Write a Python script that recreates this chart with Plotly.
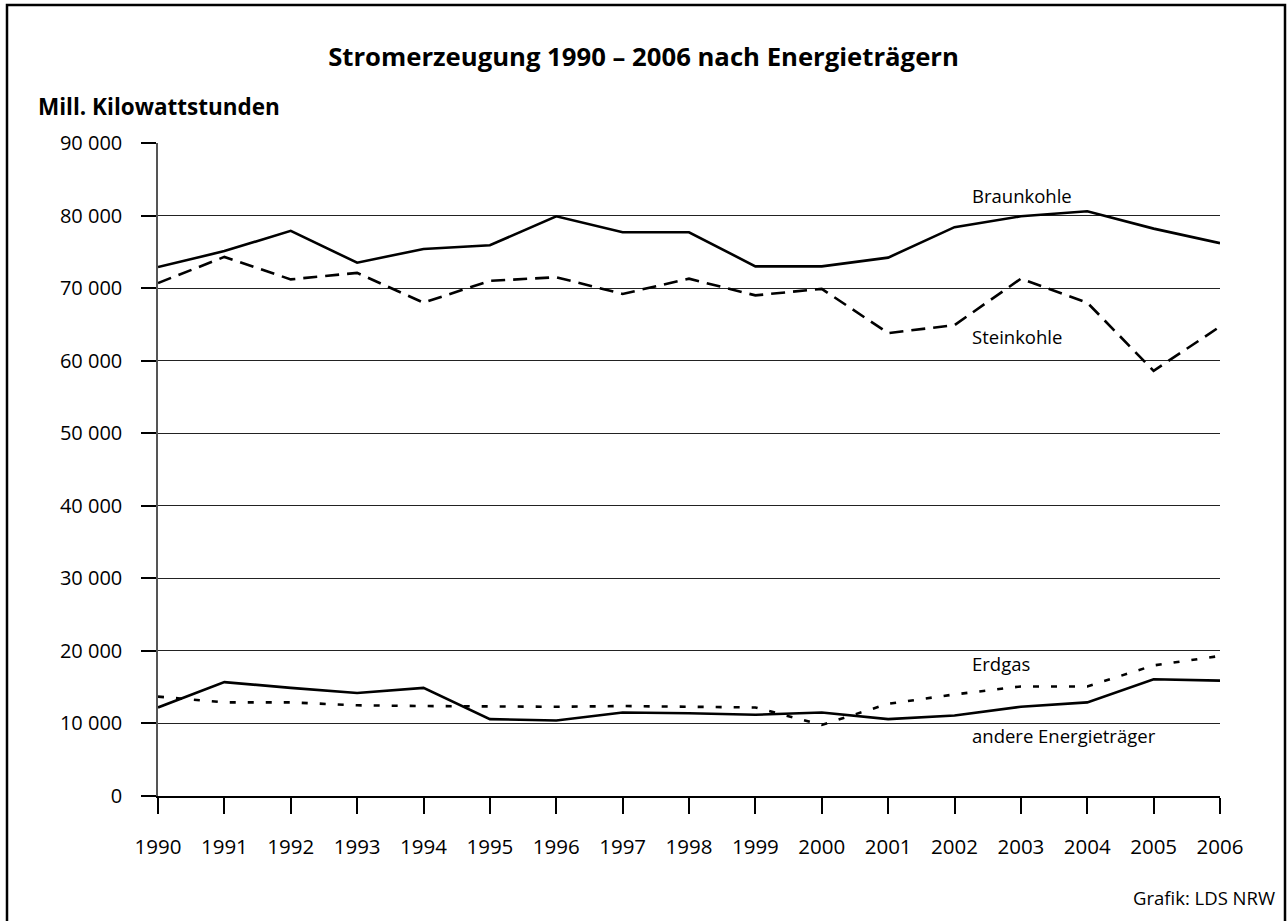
import plotly.graph_objects as go

years = list(range(1990, 2007))

braunkohle = [72900, 75100, 77900, 73500, 75400, 75900, 79900, 77700, 77700,
              73000, 73000, 74200, 78400, 79900, 80600, 78200, 76200]
steinkohle = [70700, 74300, 71200, 72100, 68000, 71000, 71500, 69200, 71300,
              69000, 69900, 63800, 64900, 71300, 68000, 58600, 64700]
erdgas = [13700, 12900, 12900, 12500, 12400, 12300, 12300, 12400, 12300,
          12200, 9800, 12700, 14000, 15100, 15100, 18000, 19300]
andere = [12200, 15700, 14900, 14200, 14900, 10600, 10400, 11500, 11400,
          11200, 11500, 10600, 11100, 12300, 12900, 16100, 15900]

y_ticks = list(range(0, 90001, 10000))
y_labels = ["0" if v == 0 else f"{v // 1000} 000" for v in y_ticks]

FONT = "Open Sans"

W, H = 1287, 921
L, R, T, B = 158, 67, 143, 125
pw, ph = W - L - R, H - T - B


def px_x(p):
    return (p - L) / pw


def px_y(p):
    return (H - B - p) / ph


fig = go.Figure()
fig.add_trace(go.Scatter(x=years, y=braunkohle, mode="lines", name="Braunkohle",
                         line=dict(color="black", width=2.6)))
fig.add_trace(go.Scatter(x=years, y=steinkohle, mode="lines", name="Steinkohle",
                         line=dict(color="black", width=2.6, dash="14px,8px")))
fig.add_trace(go.Scatter(x=years, y=erdgas, mode="lines", name="Erdgas",
                         line=dict(color="black", width=2.6, dash="6px,12px")))
fig.add_trace(go.Scatter(x=years, y=andere, mode="lines", name="andere Energieträger",
                         line=dict(color="black", width=2.6)))

# series labels
labels = [("Braunkohle", 82700), ("Steinkohle", 63400),
          ("Erdgas", 18300), ("andere Energieträger", 8300)]
for txt, yv in labels:
    fig.add_annotation(x=2002.23, y=yv, xref="x", yref="y", text=txt,
                       showarrow=False, xanchor="left", yanchor="middle",
                       font=dict(family=FONT, size=18.5, color="black"))

fig.add_annotation(x=px_x(36), y=px_y(106), xref="paper", yref="paper",
                   text="<b>Mill. Kilowattstunden</b>",
                   showarrow=False, xanchor="left", yanchor="middle",
                   font=dict(family=FONT, size=22.5, color="black"))
fig.add_annotation(x=px_x(1277), y=px_y(897), xref="paper", yref="paper",
                   text="Grafik: LDS NRW", showarrow=False,
                   xanchor="right", yanchor="middle",
                   font=dict(family=FONT, size=18.5, color="black"))

fig.add_shape(type="rect", xref="paper", yref="paper",
              x0=px_x(7), x1=px_x(1285), y0=px_y(930), y1=px_y(5),
              line=dict(color="black", width=2.5), fillcolor="rgba(0,0,0,0)")

fig.update_layout(
    width=W, height=H, autosize=False,
    margin=dict(l=L, r=R, t=T, b=B),
    paper_bgcolor="white", plot_bgcolor="white",
    showlegend=False,
    font=dict(family=FONT, color="black"),
    title=dict(text="<b>Stromerzeugung 1990 – 2006 nach Energieträgern</b>",
               x=0.5, xref="container", xanchor="center",
               y=1 - 57 / H, yref="container", yanchor="middle",
               font=dict(family=FONT, size=25.7, color="black")),
)
fig.update_xaxes(range=[1990, 2006], tickvals=years, ticks="outside", ticklen=16,
                 tickwidth=1.5, tickcolor="black", showgrid=False, zeroline=False,
                 showline=True, linecolor="black", linewidth=1.5,
                 tickfont=dict(family=FONT, size=20.5), ticklabelstandoff=16)
fig.update_yaxes(range=[0, 90000], tickvals=y_ticks, ticktext=y_labels,
                 ticks="outside", ticklen=15, tickwidth=1.5, tickcolor="black",
                 showgrid=True, gridcolor="#222", gridwidth=1.2, zeroline=False,
                 showline=True, linecolor="#555", linewidth=1.5,
                 tickfont=dict(family=FONT, size=20), ticklabelstandoff=15)

fig.write_html("out.html", config={"displayModeBar": False},
               post_script="document.body.style.margin='0';document.body.style.overflow='hidden';")
